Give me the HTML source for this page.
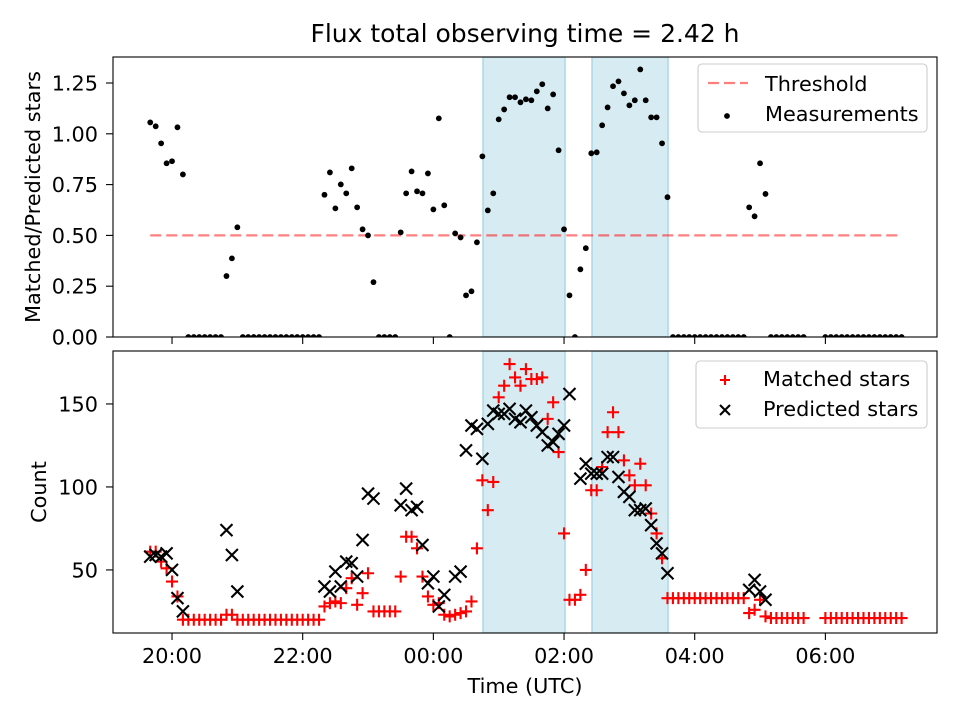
<!DOCTYPE html>
<html><head><meta charset="utf-8"><style>
html,body{margin:0;padding:0;background:#fff;}
svg{display:block;font-family:"DejaVu Sans","Liberation Sans",sans-serif;}
</style></head><body>
<svg id="fig" width="960" height="720" viewBox="0 0 960 720" xmlns="http://www.w3.org/2000/svg">
<defs>
<clipPath id="clipTop"><rect x="113" y="57" width="824" height="280"/></clipPath>
<clipPath id="clipBot"><rect x="113" y="351" width="824" height="282"/></clipPath>
</defs>
<rect width="960" height="720" fill="#fff"/>
<text x="525" y="42" font-size="25" text-anchor="middle">Flux total observing time = 2.42 h</text>
<g id="topPanel"></g>
<g id="botPanel"></g>
<text transform="translate(40,197) rotate(-90)" font-size="20.8" text-anchor="middle">Matched/Predicted stars</text>
<text transform="translate(46,492) rotate(-90)" font-size="20.8" text-anchor="middle">Count</text>
<text x="525" y="693" font-size="20.8" text-anchor="middle">Time (UTC)</text>
</svg>
<script>
// minutes relative to 20:00 UTC
const times = [-20,-15,-10,-5,0,5,10,15,20,25,30,35,40,45,50,55,60,65,70,75,80,85,90,95,100,105,110,115,120,125,130,135,140,145,150,155,160,165,170,175,180,185,190,195,200,205,210,215,220,225,230,235,240,245,250,255,260,265,270,275,280,285,290,295,300,305,310,315,320,325,330,335,340,345,350,355,360,365,370,375,380,385,390,395,400,405,410,415,420,425,430,435,440,445,450,455,460,465,470,475,480,485,490,495,500,505,510,515,520,525,530,535,540,545,550,555,560,565,570,575,580,600,605,610,615,620,625,630,635,640,645,650,655,660,665,670];
const ratio = [1.056,1.037,0.953,0.855,0.865,1.032,0.80,0,0,0,
0,0,0,0,0.30,0.387,0.54,0,0,0,
0,0,0,0,0,0,0,0,0,0,
0,0,0.70,0.81,0.633,0.751,0.707,0.83,0.638,0.53,
0.50,0.27,0,0,0,0,0.515,0.707,0.815,0.717,
0.707,0.805,0.628,1.076,0.648,0,0.51,0.49,0.205,0.225,
0.466,0.889,0.623,0.707,1.071,1.12,1.18,1.18,1.155,1.17,
1.165,1.209,1.244,1.125,1.194,0.919,0.53,0.205,0,0.333,
0.437,0.904,0.909,1.042,1.13,1.234,1.258,1.199,1.14,1.165,
1.317,1.165,1.081,1.081,0.953,0.688,0,0,0,0,
0,0,0,0,0,0,0,0,0,0,
0.638,0.594,0.855,0.704,0,0,0,0,0,0,
0,0,0,0,0,0,0,0,0,0,0,0,0,0,0,0];
const predicted = [58,59,58,60,50,33,25,0,0,0,
0,0,0,0,74,59,37,0,0,0,
0,0,0,0,0,0,0,0,0,0,
0,0,40,37,49,40,55,54,46,68,
96,93,0,0,0,0,89,99,86,88,
65,42,46,28,35,0,46,49,122,137,
135,117,138,146,144,144,147,141,139,146,
142,137,133,125,127,132,137,156,0,105,
114,108,108,108,118,118,106,97,94,86,
86,87,77,66,60,48,0,0,0,0,
0,0,0,0,0,0,0,0,0,0,
38,44,37,32,0,0,0,0,0,0,
0,0,0,0,0,0,0,0,0,0,0,0,0,0,0,0];
const matched = [61,61,55,51,43,34,20,20,20,20,
20,20,20,20,23,23,20,20,20,20,
20,20,20,20,20,20,20,20,20,20,
20,20,28,30,31,30,39,45,29,36,
48,25,25,25,25,25,46,70,70,63,
46,34,29,30,23,22,23,24,25,31,
63,104,86,103,154,161,174,166,161,171,
165,165,166,141,151,121,72,32,32,35,
50,98,98,112,133,145,133,116,107,101,
114,101,84,72,57,33,33,33,33,33,
33,33,33,33,33,33,33,33,33,33,
24,26,32,22,21,21,21,21,21,21,
21,21,21,21,21,21,21,21,21,21,21,21,21,21,21,21];
const threshold = 0.5;
const thresholdRange = [-20, 670];
const spans = [[285.6, 360.9], [385.7, 455.5]];
const xTickVals = [0, 120, 240, 360, 480, 600];
const xTickLabels = ["20:00","22:00","00:00","02:00","04:00","06:00"];
const topTicks = [0, 0.25, 0.5, 0.75, 1.0, 1.25];
const topTickLabels = ["0.00","0.25","0.50","0.75","1.00","1.25"];
const botTicks = [50, 100, 150];
const botTickLabels = ["50","100","150"];

const NS = "http://www.w3.org/2000/svg";
const L = 113, R = 937;
const FS = 20.8;
const xMin = -54.2, xMax = 702.5;
const X = m => L + (m - xMin) / (xMax - xMin) * (R - L);
const topY0 = 337, topY1 = 57, topMin = 0, topMax = 1.378;
const YT = v => topY0 - (v - topMin) / (topMax - topMin) * (topY0 - topY1);
const botY0 = 633, botY1 = 351, botMin = 12, botMax = 181.9;
const YB = v => botY0 - (v - botMin) / (botMax - botMin) * (botY0 - botY1);

function mk(tag, attrs, parent) {
  const e = document.createElementNS(NS, tag);
  for (const k in attrs) e.setAttribute(k, attrs[k]);
  parent.appendChild(e);
  return e;
}

function panel(g, y0, y1, clipId, showXLabels, ticks, labels, Yf) {
  const pg = mk('g', {'clip-path': 'url(#' + clipId + ')'}, g);
  spans.forEach((s, i) => {
    const r = mk('rect', {x: X(s[0]), y: y1, width: X(s[1]) - X(s[0]), height: y0 - y1, fill: '#add8e6', 'fill-opacity': 0.5, stroke: '#add8e6', 'stroke-width': 1.5}, pg);
    
    
  });
  ticks.forEach((t, i) => {
    const y = Yf(t);
    const tk = mk('line', {x1: L - 7, x2: L, y1: y, y2: y, stroke: '#000', 'stroke-width': 1.1}, g);
    
    
    const tx = mk('text', {x: L - 15, y: y + 7.5, 'font-size': FS, 'text-anchor': 'end'}, g);
    tx.textContent = labels[i];
    
    
  });
  xTickVals.forEach((t, i) => {
    const x = X(t);
    const tk = mk('line', {x1: x, x2: x, y1: y0, y2: y0 + 7, stroke: '#000', 'stroke-width': 1.1}, g);
    
    
    if (showXLabels) {
      const tx = mk('text', {x: x, y: y0 + 30, 'font-size': FS, 'text-anchor': 'middle'}, g);
      tx.textContent = xTickLabels[i];
      
      
    }
  });
  return pg;
}

// TOP PANEL
const topG = document.getElementById('topPanel');
const tp = panel(topG, topY0, topY1, 'clipTop', false, topTicks, topTickLabels, YT);
const th = mk('line', {x1: X(thresholdRange[0]), x2: X(thresholdRange[1]), y1: YT(threshold), y2: YT(threshold), stroke: '#ff0000', 'stroke-opacity': 0.5, 'stroke-width': 2.2, 'stroke-dasharray': '11,5'}, tp);


times.forEach((t, i) => {
  const c = mk('circle', {cx: X(t), cy: YT(ratio[i]), r: 2.9, fill: '#000'}, tp);
  
  
});
const tf = mk('rect', {x: L, y: topY1, width: R - L, height: topY0 - topY1, fill: 'none', stroke: '#000', 'stroke-width': 1.1}, topG);



// BOTTOM PANEL
const botG = document.getElementById('botPanel');
const bp = panel(botG, botY0, botY1, 'clipBot', true, botTicks, botTickLabels, YB);
const h = 6;
times.forEach((t, i) => {
  const x = X(t), y = YB(matched[i]);
  const p = mk('path', {d: `M${x-h},${y}H${x+h}M${x},${y-h}V${y+h}`, stroke: '#ff0000', 'stroke-width': 2.1, fill: 'none'}, bp);
  
  
});
times.forEach((t, i) => {
  const x = X(t), y = YB(predicted[i]);
  const p = mk('path', {d: `M${x-h},${y-h}L${x+h},${y+h}M${x-h},${y+h}L${x+h},${y-h}`, stroke: '#000', 'stroke-width': 2.1, fill: 'none'}, bp);
  
  
});
const bf = mk('rect', {x: L, y: botY1, width: R - L, height: botY0 - botY1, fill: 'none', stroke: '#000', 'stroke-width': 1.1}, botG);



// LEGENDS
const svgEl = document.getElementById('fig');
const lg1 = mk('g', {}, svgEl);


mk('rect', {x: 698, y: 64, width: 229, height: 68, rx: 4, fill: '#fff', 'fill-opacity': 0.8, stroke: '#ccc', 'stroke-width': 1.1}, lg1);
const l1 = mk('line', {x1: 708, x2: 748, y1: 83, y2: 83, stroke: '#ff0000', 'stroke-opacity': 0.5, 'stroke-width': 2.2, 'stroke-dasharray': '11,5'}, lg1);


const t1 = mk('text', {x: 765, y: 91, 'font-size': FS}, lg1);
t1.textContent = 'Threshold';


const c1 = mk('circle', {cx: 727, cy: 116, r: 2.9, fill: '#000'}, lg1);


const t2 = mk('text', {x: 765, y: 121, 'font-size': FS}, lg1);
t2.textContent = 'Measurements';



const lg2 = mk('g', {}, svgEl);


mk('rect', {x: 696, y: 361, width: 231, height: 67, rx: 4, fill: '#fff', 'fill-opacity': 0.8, stroke: '#ccc', 'stroke-width': 1.1}, lg2);
const mx = 725, my = 380, hl = 5;
const p1 = mk('path', {d: `M${mx-hl},${my}H${mx+hl}M${mx},${my-hl}V${my+hl}`, stroke: '#ff0000', 'stroke-width': 2.1}, lg2);


const t3 = mk('text', {x: 763, y: 386, 'font-size': FS}, lg2);
t3.textContent = 'Matched stars';


const py = 410;
const p2 = mk('path', {d: `M${mx-hl},${py-hl}L${mx+hl},${py+hl}M${mx-hl},${py+hl}L${mx+hl},${py-hl}`, stroke: '#000', 'stroke-width': 2.1}, lg2);


const t4 = mk('text', {x: 763, y: 416, 'font-size': FS}, lg2);
t4.textContent = 'Predicted stars';


</script>
</body></html>
